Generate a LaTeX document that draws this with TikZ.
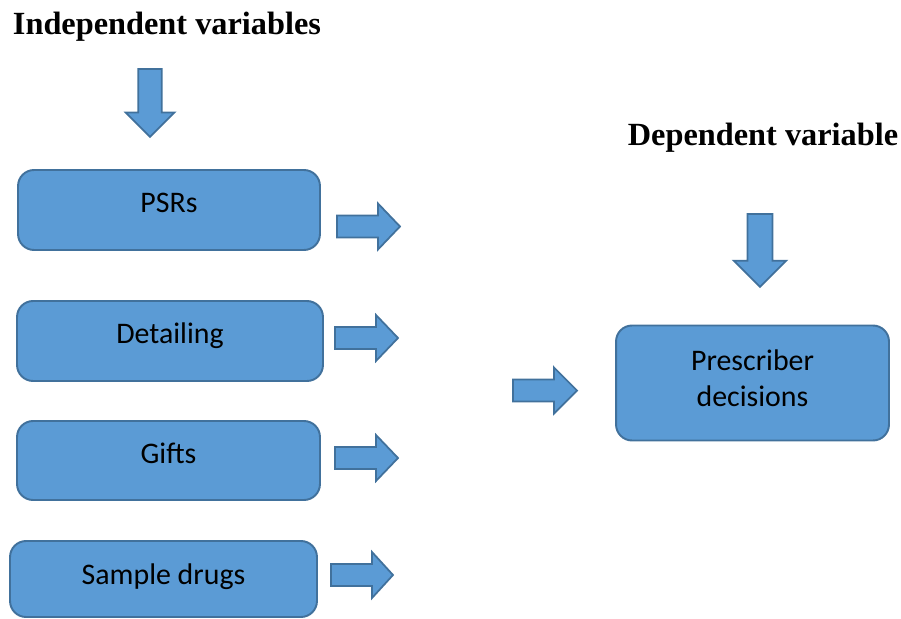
\documentclass[tikz,border=0pt]{standalone}
\usepackage{fontspec}
\setmainfont{Liberation Serif}
\newfontfamily\calibrifont{Carlito}
\definecolor{boxfill}{HTML}{5B9BD5}
\definecolor{boxline}{HTML}{41719C}
\tikzset{
  varbox/.style={draw=boxline,fill=boxfill,line width=1.1pt,rounded corners=.32cm,
    font=\calibrifont\fontsize{17}{21}\selectfont,inner sep=0pt},
  onebox/.style={varbox,text height=12pt,text depth=8.6pt},
  headtext/.style={font=\bfseries\fontsize{18.4}{22}\selectfont,inner sep=0pt},
  pics/blockarrow/.style={code={
    \draw[draw=boxline,fill=boxfill,line width=1pt,line join=miter]
      (0,-11)--(41,-11)--(41,-23)--(#1,0)--(41,23)--(41,11)--(0,11)--cycle;}}
}
\begin{document}
\begin{tikzpicture}[x=.02cm,y=-.02cm]
  \useasboundingbox (0,0) rectangle (901,618);
  % headings
  \node[headtext] (indep) at (167,27) {Independent variables};
  \node[headtext] (dep) at (763,138) {Dependent variable};
  % boxes
  \node[onebox,minimum width=6.04cm,minimum height=1.6cm] (psrs) at (169,210) {PSRs};
  \node[onebox,minimum width=6.12cm,minimum height=1.6cm] (detail) at (170,341) {Detailing};
  \node[onebox,minimum width=6.06cm,minimum height=1.58cm] (gifts) at (168.5,460.5) {Gifts};
  \node[onebox,text depth=5.2pt,minimum width=6.14cm,minimum height=1.52cm] (sample) at (163.5,579) {Sample drugs};
  \node[varbox,align=center,text depth=5.5pt,minimum width=5.46cm,minimum height=2.3cm] (presc) at (752.5,383) {Prescriber\\decisions};
  % block arrows
  \pic at (150,69) [rotate=-90,scale=1.06] {blockarrow=64};
  \pic at (760,214) [rotate=-90,scale=1.14] {blockarrow=64};
  \pic at (337,226.5) {blockarrow=63};
  \pic at (335,338) {blockarrow=63};
  \pic at (335,458) {blockarrow=63};
  \pic at (331,575) {blockarrow=62};
  \pic at (513,390.5) {blockarrow=64};
\end{tikzpicture}
\end{document}
